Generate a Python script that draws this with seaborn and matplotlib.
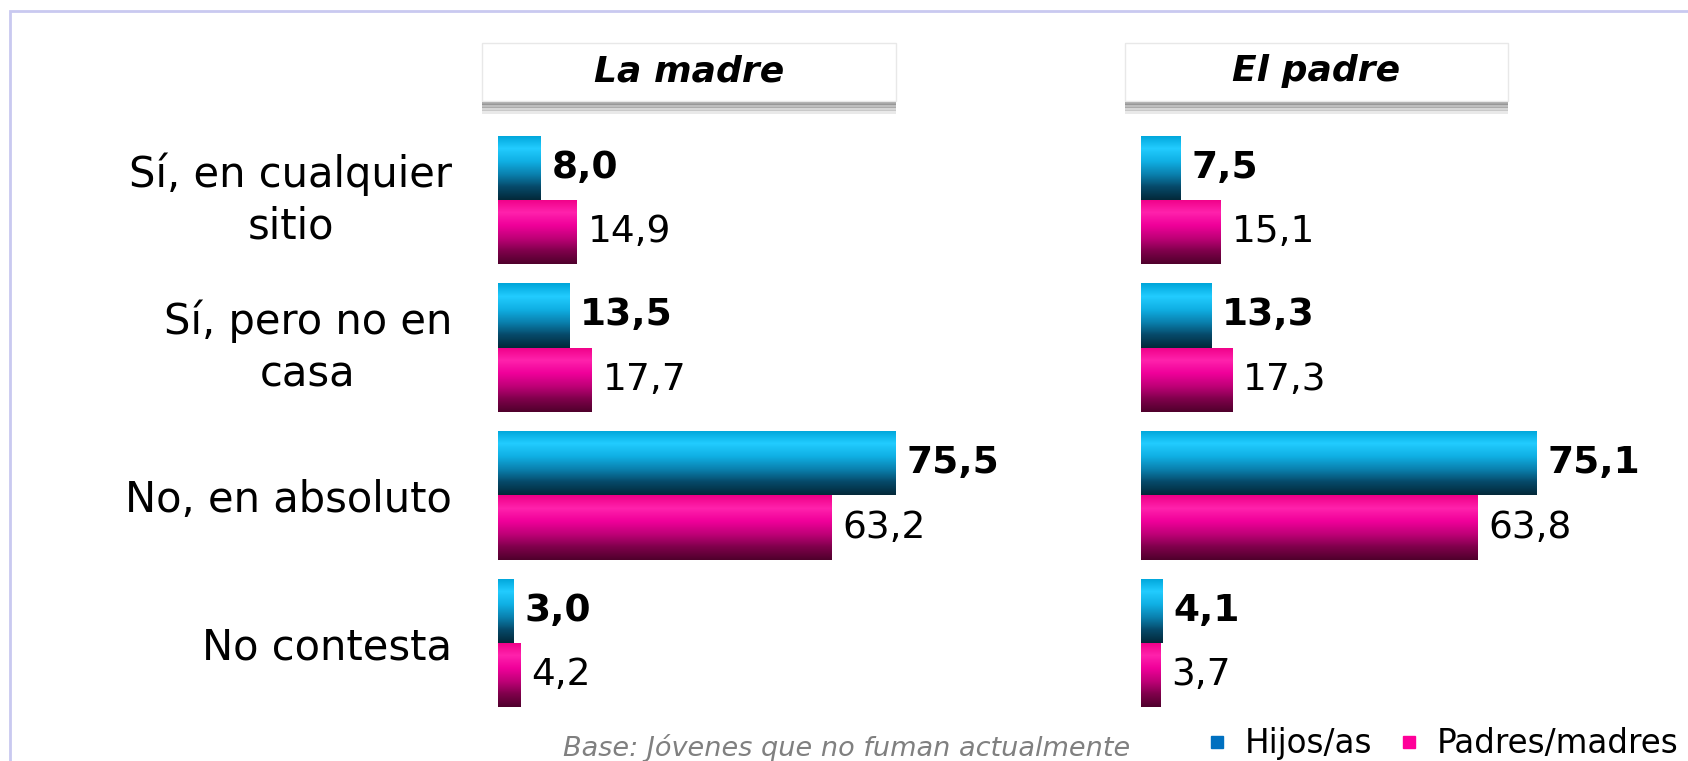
import numpy as np
import pandas as pd
import matplotlib
matplotlib.use("Agg")
import matplotlib.pyplot as plt
import seaborn as sns
from matplotlib.patches import Rectangle
from matplotlib.lines import Line2D

# data
categorias = ["Sí, en cualquier\nsitio", "Sí, pero no en\ncasa", "No, en absoluto", "No contesta"]
grupos = ["Hijos/as", "Padres/madres"]
madre_hijos = [8.0, 13.5, 75.5, 3.0]
madre_padres = [14.9, 17.7, 63.2, 4.2]
padre_hijos = [7.5, 13.3, 75.1, 4.1]
padre_padres = [15.1, 17.3, 63.8, 3.7]
paneles = ["La madre", "El padre"]
nota = "Base: Jóvenes que no fuman actualmente"

def tabla(hijos, padres):
    return pd.DataFrame({
        "categoria": categorias * 2,
        "grupo": [grupos[0]] * 4 + [grupos[1]] * 4,
        "valor": hijos + padres,
    })

df_madre = tabla(madre_hijos, madre_padres)
df_padre = tabla(padre_hijos, padre_padres)

sns.set_theme(style="white")
plt.rcParams["font.family"] = ["DejaVu Sans"]
plt.rcParams["text.color"] = "black"
plt.rcParams["ytick.color"] = "black"
plt.rcParams["ytick.labelcolor"] = "black"

W, H = 1688, 761
fig = plt.figure(figsize=(W / 100, H / 100), dpi=100)

# outer frame
fig.patches.append(Rectangle((10 / W, -0.01), 1.2, 1 - 11 / H + 0.01, transform=fig.transFigure,
                             facecolor="none", edgecolor="#c9c9f0", lw=2, zorder=-1))

bar_colors = ["#12b2e4", "#e6008a"]
# top -> bottom shading of the "cylinders"
grad_cols = {
    0: ["#00a6da", "#22ccff", "#10b0e4", "#0a82b0", "#064a6a", "#03293a"],
    1: ["#f00088", "#ff22ac", "#f0009a", "#c00078", "#80004c", "#50002c"],
}

ax_w = 80 * 5.27 / W
ax_bottom = 1 - 717 / H
ax_h = 591 / H
axes = [fig.add_axes([498 / W, ax_bottom, ax_w, ax_h]),
        fig.add_axes([1141 / W, ax_bottom, ax_w, ax_h])]

for i, (ax, df) in enumerate(zip(axes, [df_madre, df_padre])):
    sns.barplot(data=df, y="categoria", x="valor", hue="grupo", order=categorias,
                hue_order=grupos, palette=bar_colors, width=0.87, orient="h",
                ax=ax, legend=False)
    for k, cont in enumerate(ax.containers):
        cmap = matplotlib.colors.LinearSegmentedColormap.from_list("g", grad_cols[k])
        grad = np.linspace(0, 1, 64).reshape(-1, 1)
        for p in cont:
            x0, y0 = p.get_x(), p.get_y()
            w, h = p.get_width(), p.get_height()
            im = ax.imshow(grad, cmap=cmap, aspect="auto",
                           extent=[x0, x0 + w, y0 + h, y0], zorder=p.get_zorder() + 0.1)
            im.set_clip_path(p)
        ax.bar_label(cont, labels=[f"{v:.1f}".replace(".", ",") for v in cont.datavalues],
                     padding=8, fontsize=27, color="black",
                     fontweight="bold" if k == 0 else "normal")
    ax.set_xlim(0, 80)
    ax.set_ylim(3.5, -0.5)
    ax.set_xlabel("")
    ax.set_ylabel("")
    ax.set_xticks([])
    sns.despine(ax=ax, left=True, bottom=True)
    ax.patch.set_alpha(0)
    if i == 0:
        ax.tick_params(axis="y", length=0, pad=33)
        for t in ax.get_yticklabels():
            t.set_fontsize(30)
            t.set_multialignment("center")
            t.set_linespacing(1.3)
            if "\n" in t.get_text():
                t.set_va("center")
    else:
        ax.set_yticklabels([])
        ax.tick_params(axis="y", length=0)

# header boxes
for (x0, x1), txt in zip([(482, 896), (1125, 1508)], paneles):
    for j, a in enumerate([0.75, 0.55, 0.35, 0.18]):
        fig.patches.append(Rectangle((x0 / W, 1 - (105 + 3 * j) / H), (x1 - x0) / W, 4 / H,
                                     transform=fig.transFigure, facecolor="#8a8a8a",
                                     alpha=a, edgecolor="none", zorder=1))
    fig.patches.append(Rectangle((x0 / W, 1 - 101 / H), (x1 - x0) / W, 58 / H,
                                 transform=fig.transFigure, facecolor="white",
                                 edgecolor="#e8e8e8", lw=1, zorder=2))
    fig.text((x0 + x1) / 2 / W, 1 - 71 / H, txt, ha="center", va="center",
             fontsize=26, fontweight="bold", fontstyle="italic", zorder=3)

fig.text(847 / W, 1 - 748 / H, nota, ha="center", va="center",
         fontsize=19.5, fontstyle="italic", color="#808080")

handles = [Line2D([], [], marker="s", ls="", color=c, markersize=9)
           for c in ["#0070c0", "#ff0099"]]
fig.legend(handles, grupos, loc="center", bbox_to_anchor=(1442 / W, 1 - 744 / H),
           ncol=2, frameon=False, fontsize=23.5, handletextpad=0.5, columnspacing=0.8,
           handlelength=0.7)

fig.savefig("out.png", dpi=100)
